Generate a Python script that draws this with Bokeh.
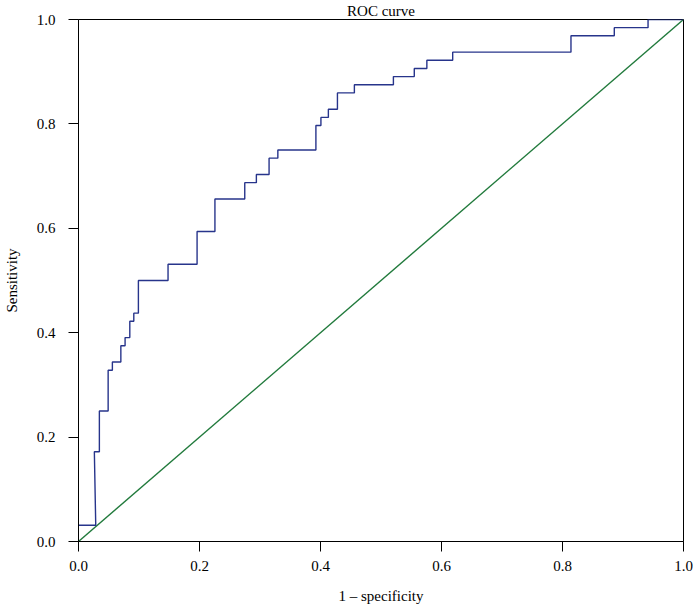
from bokeh.plotting import figure
from bokeh.models import Range1d, FixedTicker, NumeralTickFormatter
from bokeh.embed import file_html
from bokeh.resources import INLINE

# ROC curve vertices (1 - specificity, sensitivity)
fpr = [0.0, 0.0285, 0.0262, 0.0345, 0.0345, 0.049, 0.049, 0.056, 0.056, 0.070,
       0.070, 0.077, 0.077, 0.0848, 0.0848, 0.0914, 0.0914, 0.099, 0.099, 0.148,
       0.148, 0.196, 0.196, 0.2255, 0.2255, 0.2748, 0.2748, 0.294, 0.294, 0.315,
       0.315, 0.3295, 0.3295, 0.3924, 0.3924, 0.4007, 0.4007, 0.413, 0.413, 0.428,
       0.428, 0.456, 0.456, 0.5205, 0.5205, 0.555, 0.555, 0.5758, 0.5758, 0.6185,
       0.6185, 0.814, 0.814, 0.8856, 0.8856, 0.9414, 0.9414, 1.0]
tpr = [0.03125, 0.03125, 0.171875, 0.171875, 0.25, 0.25, 0.328125, 0.328125, 0.34375, 0.34375,
       0.375, 0.375, 0.390625, 0.390625, 0.421875, 0.421875, 0.4375, 0.4375, 0.5, 0.5,
       0.53125, 0.53125, 0.59375, 0.59375, 0.65625, 0.65625, 0.6875, 0.6875, 0.703125, 0.703125,
       0.734375, 0.734375, 0.75, 0.75, 0.796875, 0.796875, 0.8125, 0.8125, 0.828125, 0.828125,
       0.859375, 0.859375, 0.875, 0.875, 0.890625, 0.890625, 0.90625, 0.90625, 0.921875, 0.921875,
       0.9375, 0.9375, 0.96875, 0.96875, 0.984375, 0.984375, 1.0, 1.0]

# reference diagonal
diag_x = [0.0, 1.0]
diag_y = [0.0, 1.0]

ticks = [0.0, 0.2, 0.4, 0.6, 0.8, 1.0]

FONT = "Liberation Serif"
FS = "15px"

p = figure(width=693, height=607, output_backend="svg", toolbar_location=None,
           x_range=Range1d(0, 1), y_range=Range1d(0, 1), title="ROC curve",
           min_border_left=75, min_border_right=10, min_border_top=19, min_border_bottom=66)

p.title.align = "center"
p.title.vertical_align = "middle"
p.title.text_font = FONT
p.title.text_font_size = FS
p.title.text_font_style = "normal"
p.title.text_color = "black"
p.title.standoff = 0
p.title.offset = 0

p.line(diag_x, diag_y, line_color="#217a3c", line_width=1.4)
p.line(fpr, tpr, line_color="#27348b", line_width=1.4)

p.grid.visible = False
p.outline_line_color = "black"
p.outline_line_alpha = 1.0
p.outline_line_width = 1

for ax in (p.xaxis[0], p.yaxis[0]):
    ax.ticker = FixedTicker(ticks=ticks, minor_ticks=[])
    ax.formatter = NumeralTickFormatter(format="0.0")
    ax.axis_line_color = "black"
    ax.major_tick_line_color = "black"
    ax.major_tick_out = 10
    ax.major_tick_in = 0
    ax.minor_tick_line_color = None
    ax.major_label_text_font = FONT
    ax.major_label_text_font_size = FS
    ax.major_label_text_color = "black"
    ax.axis_label_text_font = FONT
    ax.axis_label_text_font_size = FS
    ax.axis_label_text_font_style = "normal"
    ax.axis_label_text_color = "black"

p.xaxis.axis_label = "1 \u2013 specificity"
p.yaxis.axis_label = "Sensitivity"
p.xaxis.major_label_standoff = 9
p.xaxis.axis_label_standoff = 14
p.yaxis.major_label_standoff = 13
p.yaxis.axis_label_standoff = 14

open("out.html", "w").write(file_html(p, INLINE))
